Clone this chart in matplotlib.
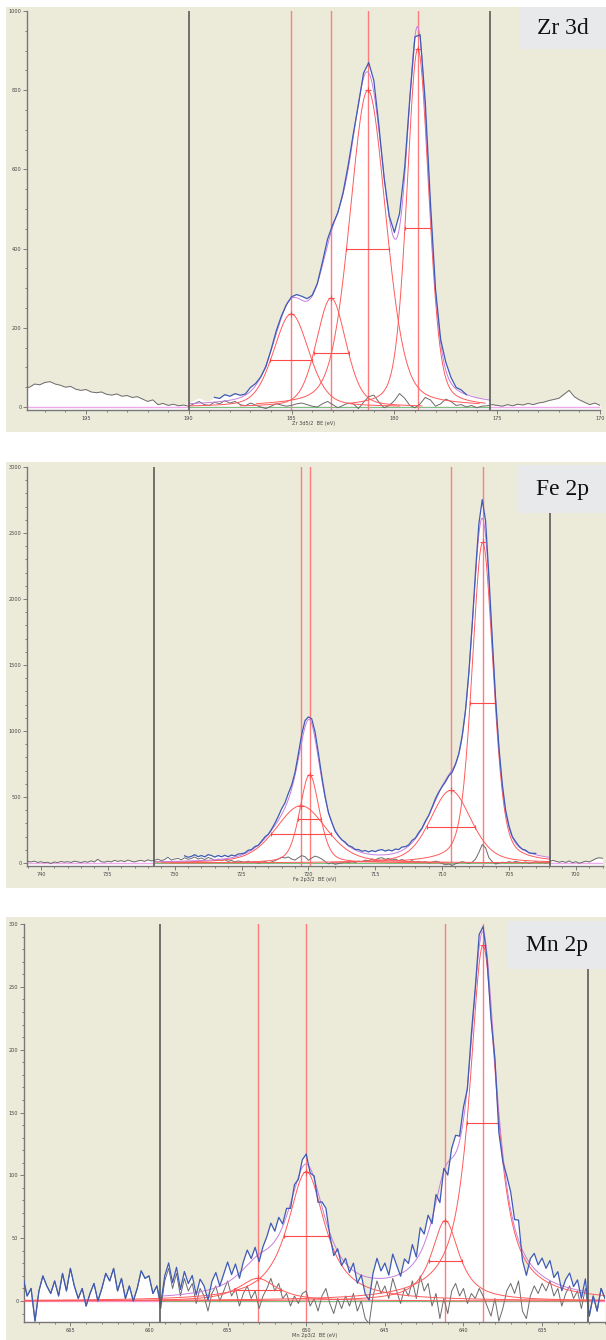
"""XPS 高分解能スペクトル (Zr 3d / Fe 2p / Mn 2p) のピーク分離図を再現する。"""
import matplotlib

matplotlib.use("Agg")  # 画面なし環境用

import matplotlib.pyplot as plt
import numpy as np
from matplotlib.patches import Rectangle
from matplotlib.ticker import FormatStrFormatter, MultipleLocator

W, H = 606, 1340
STEP = 0.25  # 読み取り値の刻み (eV)
BEIGE = "#ECEBDA"
BOX_GRAY = "#E8E9EB"

# ---- Zr 3d ----
zr_start = 198.0
zr_centers = [185.02, 183.08, 181.29, 178.86]
zr_heights = [235, 275, 800, 905]
zr_fwhm = [2.03, 1.70, 2.08, 1.26]
zr_region = (190.0, 175.35)
zr_blue = (188.8, 176.3)
# 灰色の線(範囲外は生データ、範囲内はフィット残差)
zr_resid = [
    48, 50, 58, 56, 62, 64, 58, 55, 50, 52,
    45, 42, 44, 38, 36, 38, 32, 30, 33, 27,
    29, 24, 26, 20, 14, 18, 6, 9, 4, 7,
    3, 5, 2, 8, 14, 6, 4, 12, 8, 16,
    10, 14, 6, 3, 10, 5, 0, -4, 2, 8,
    5, 2, 4, 8, 10, 6, 2, 0, 8, 14,
    6, -2, 4, 10, 8, -4, 12, 26, 30, 12,
    -2, 4, 16, 34, 22, 4, -2, 8, 24, 18,
    2, 8, 20, 14, 4, 6, 0, 4, -2, 2,
    3, 6, 4, 2, 6, 3, 7, 5, 9, 6,
    10, 12, 16, 19, 22, 32, 42, 26, 18, 12,
    6, 10, 4,
]

# ---- Fe 2p ----
fe_start = 741.0
fe_centers = [720.55, 719.91, 709.36, 706.97]
fe_heights = [434, 669, 550, 2430]
fe_fwhm = [4.48, 1.73, 3.6, 1.88]
fe_region = (731.53, 701.9)
fe_blue = (729.3, 703.0)
fe_resid = [
    12, 8, 14, 4, 10, 2, 6, -4, 8, 3,
    12, 6, 10, 4, 14, 9, 3, 11, 6, 16,
    8, 28, 10, 6, 14, 8, 20, 12, 18, 10,
    22, 14, 8, 16, 20, 12, 24, 16, 20, 30,
    18, 26, 44, 22, 30, 36, 24, 40, 28, 34,
    46, 30, 38, 26, 42, 34, 20, 30, 18, 26,
    12, 20, 8, 16, 10, 6, 14, 4, 10, -2,
    6, 12, 2, 8, 18, 30, 44, 38, 46, 30,
    22, 40, 56, 48, 20, 38, 52, 44, 30, 12,
    -6, 2, -10, -4, 0, 8, 2, 10, 4, 14,
    10, 22, 16, 30, 24, 36, 40, 28, 34, 22,
    30, 18, 26, 14, 8, 18, 6, 12, 4, 10,
    0, 6, 14, 8, -4, -14, -8, -18, -6, 2,
    10, 4, -2, 6, 30, 80, 140, 115, 40, 10,
    -8, 0, 6, 2, 10, 4, 12, 6, 2, 8,
    -2, 4, 10, 2, 6, 0, 8, 20, 14, 6,
    12, 4, 16, 2, 10, -2, 6, 14, 8, 20,
    34, 40, 36,
]

# ---- Mn 2p ----
mn_start = 668.0
mn_centers = [653.1, 650.0, 641.16, 638.76]
mn_heights = [18, 103, 64, 283]
mn_fwhm = [2.97, 2.85, 2.1, 2.05]
mn_region = (659.33, 632.1)
mn_blue = (668.0, 631.0)
mn_resid = [
    18, 4, 10, -16, 8, 20, 12, 6, 16, 4,
    22, 8, 26, 12, 2, 10, -4, 6, 14, 0,
    10, 22, 16, 26, 8, 18, 2, 12, 0, 10,
    24, 18, 20, 6, 12, -6, 16, 26, 10, 22,
    4, 18, 8, 14, -2, 10, 4, -8, 6, 12,
    0, 8, 16, 4, 10, -4, 6, 12, 2, 8,
    -6, 4, 10, 18, 8, 14, 2, 6, -4, 4,
    -2, 6, 8, -4, 2, -8, 4, 10, -2, -10,
    2, -6, 4, -4, 6, -8, 0, -14, -18, 4,
    16, 6, 12, 2, 18, 8, -2, 10, 4, 16,
    2, 20, 8, 14, -4, 6, -14, 2, -10, 8,
    14, 4, 10, -2, 6, 2, 10, 4, -4, -12,
    2, -16, -6, 8, 14, 6, 16, -8, -14, 4,
    12, 6, 14, 8, 16, 4, 10, -4, 6, 12,
    2, 8, -6, 10, -12, 4, -8, 10, 2,
]


def gl_peak(x, center, height, fwhm, mix):
    """ガウス/ローレンツ混合ピーク (mix=ローレンツ成分の割合)。"""
    u = (x - center) / fwhm
    return height * ((1 - mix) * np.exp(-4 * np.log(2) * u**2) + mix / (1 + 4 * u**2))


def fig_rect(left, top, right, bottom):
    return [left / W, 1 - bottom / H, (right - left) / W, (bottom - top) / H]


def add_fig_box(fig, left, top, right, bottom, color, zorder):
    fig.patches.append(
        Rectangle((left / W, 1 - bottom / H), (right - left) / W, (bottom - top) / H,
                  transform=fig.transFigure, facecolor=color, edgecolor="none", zorder=zorder)
    )


def draw_panel(ax, p):
    resid = np.array(p["resid"], dtype=float)
    x = p["start"] - STEP * np.arange(len(resid))
    r_hi, r_lo = p["region"]
    inside = (x <= r_hi) & (x >= r_lo)
    comps = list(zip(p["centers"], p["heights"], p["fwhm"]))

    env_x = sum(gl_peak(x, c, h, w, p["mix"]) for c, h, w in comps)
    counts = resid + np.where(inside, env_x, 0.0)

    ymin = p["ylim"][0]
    ax.fill_between(x, ymin, counts, color="white", lw=0, zorder=1)
    ax.axhline(0, color="#F2A8EE", lw=1.0, zorder=2)
    ax.plot([r_hi, r_lo], [0, 0], color="#7CC47C", lw=0.8, zorder=2.2)
    ax.plot(x, resid, color="#6B6B6B", lw=0.7, zorder=3)

    xf = np.linspace(r_hi, r_lo, 800)
    for c, h, w in comps:
        ax.axvline(c, color="#FF7C7C", lw=1.0, zorder=2.5)
        if p["span"] is None:
            xc = np.linspace(x[0], x[-1], 1200)
        else:
            xc = np.linspace(c + p["span"] * w, c - p["span"] * w, 300)
            xc = xc[(xc <= r_hi) & (xc >= r_lo)]
        ax.plot(xc, gl_peak(xc, c, h, w, p["mix"]), color="#FF5A5A", lw=0.7, zorder=4)
        # 半値幅バーとピーク頂点の目印
        ax.plot([c - w / 2, c + w / 2], [h / 2, h / 2], color="#FF4A4A", lw=0.8,
                marker="|", ms=3, mew=0.8, zorder=4)
        ax.plot([c], [h], color="#FF4A4A", marker="+", ms=4, mew=0.8, zorder=4)

    env = sum(gl_peak(xf, c, h, w, p["mix"]) for c, h, w in comps)
    ax.plot(xf, env, color="#C77DDC", lw=0.7, zorder=4.5)

    b_hi, b_lo = p["blue"]
    bm = (x <= b_hi) & (x >= b_lo)
    ax.plot(x[bm], counts[bm], color="#3F5BB5", lw=0.9, zorder=5)

    for r in p["region"]:
        ax.axvline(r, color="#5A5A5A", lw=1.2, zorder=6)

    ax.set_xlim(p["xlim"])
    ax.set_ylim(p["ylim"])
    ax.set_facecolor(BEIGE)
    ax.xaxis.set_major_locator(MultipleLocator(5))
    ax.xaxis.set_minor_locator(MultipleLocator(1))
    ax.yaxis.set_major_locator(MultipleLocator(p["ymajor"]))
    ax.yaxis.set_minor_locator(MultipleLocator(p["yminor"]))
    ax.xaxis.set_major_formatter(FormatStrFormatter("%d"))
    ax.yaxis.set_major_formatter(FormatStrFormatter("%d"))
    ax.tick_params(which="both", direction="out", color="#6A6A6A", labelcolor="#454545",
                   labelsize=3.6, pad=1, width=0.6)
    ax.tick_params(which="major", length=3)
    ax.tick_params(which="minor", length=1.6)
    for side in ("top", "right"):
        ax.spines[side].set_visible(False)
    for side in ("left", "bottom"):
        ax.spines[side].set_color("#777777")
        ax.spines[side].set_linewidth(1.0)
    ax.set_xlabel(p["xlabel"], fontsize=3.6, labelpad=0.5, color="#454545")


panels = [
    {
        "start": zr_start, "resid": zr_resid, "centers": zr_centers, "heights": zr_heights,
        "fwhm": zr_fwhm, "mix": 0.3, "region": zr_region, "blue": zr_blue, "span": 2.6,
        "xlim": (197.87, 170.0), "ylim": (-7.6, 1000), "ymajor": 200, "yminor": 50,
        "xlabel": "Zr 3d5/2  BE (eV)", "name": "Zr 3d",
        "axes": (27, 11, 600, 410), "bg": (6, 7, 606, 432), "box": (520, 7, 606, 49),
    },
    {
        "start": fe_start, "resid": fe_resid, "centers": fe_centers, "heights": fe_heights,
        "fwhm": fe_fwhm, "mix": 0.35, "region": fe_region, "blue": fe_blue, "span": 6.0,
        "xlim": (741.04, 697.97), "ylim": (-22.7, 3000), "ymajor": 500, "yminor": 100,
        "xlabel": "Fe 2p3/2  BE (eV)", "name": "Fe 2p",
        "axes": (27, 467, 603, 866), "bg": (6, 462, 606, 888), "box": (518, 465, 606, 513),
    },
    {
        "start": mn_start, "resid": mn_resid, "centers": mn_centers, "heights": mn_heights,
        "fwhm": mn_fwhm, "mix": 0.9, "region": mn_region, "blue": mn_blue, "span": None,
        "xlim": (667.95, 631.0), "ylim": (-16.7, 300), "ymajor": 50, "yminor": 10,
        "xlabel": "Mn 2p3/2  BE (eV)", "name": "Mn 2p",
        "axes": (24, 924, 605, 1322), "bg": (6, 917, 606, 1340), "box": (507, 921, 606, 969),
    },
]

fig = plt.figure(figsize=(W / 100, H / 100), dpi=100)
for p in panels:
    add_fig_box(fig, *p["bg"], color=BEIGE, zorder=-1)
    ax = fig.add_axes(fig_rect(*p["axes"]))
    draw_panel(ax, p)
    left, top, right, bottom = p["box"]
    add_fig_box(fig, left, top, right, bottom, color=BOX_GRAY, zorder=10)
    fig.text((left + right) / 2 / W, 1 - (top + bottom) / 2 / H, p["name"],
             ha="center", va="center", fontsize=17, family="Liberation Serif",
             color="#111111", zorder=11)

fig.savefig("out.png", dpi=100, facecolor="white")
plt.close(fig)
